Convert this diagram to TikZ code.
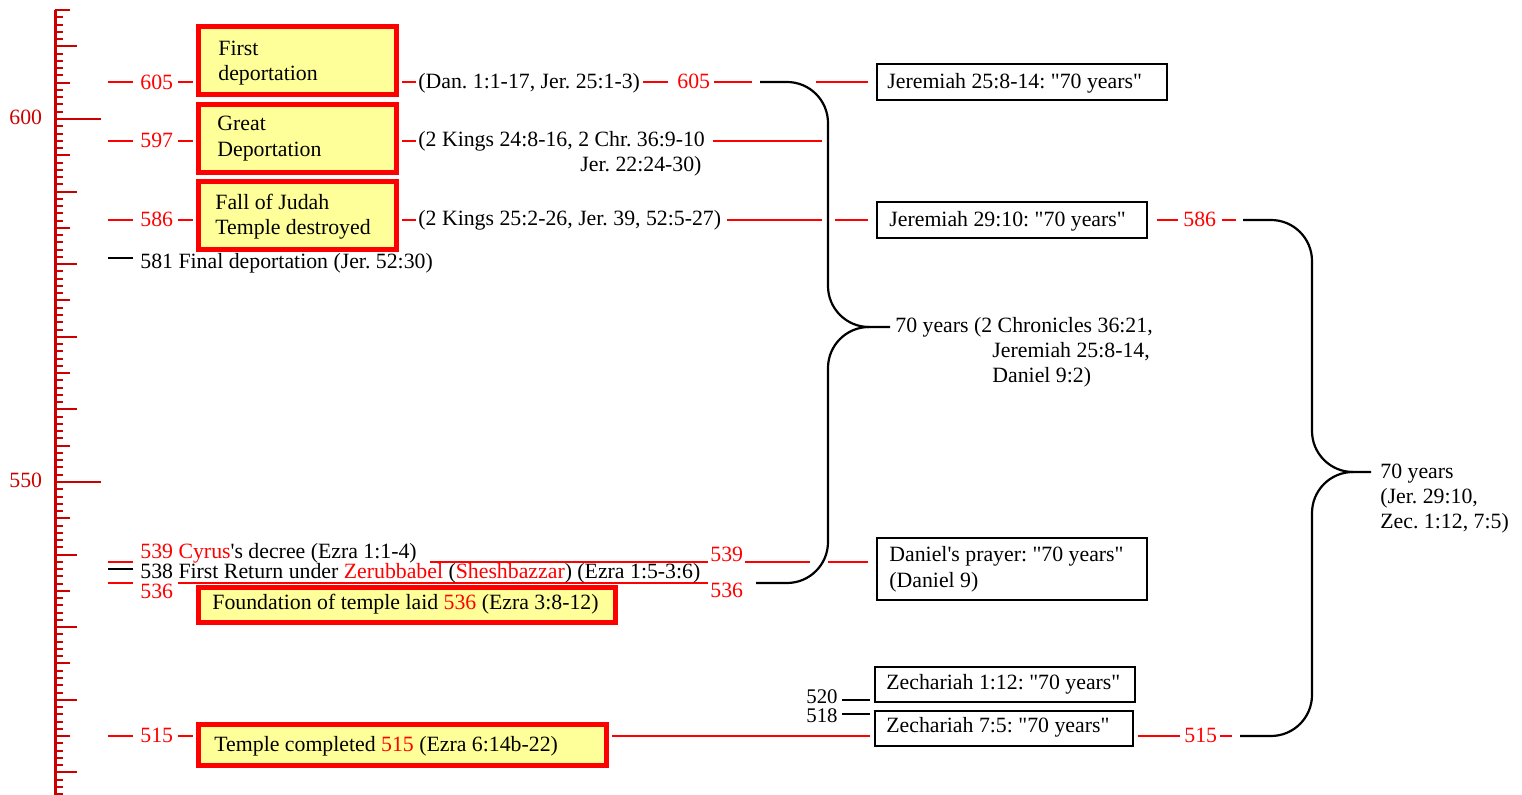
\documentclass[tikz,border=0pt]{standalone}
\usepackage{fontspec}
\setmainfont{Liberation Serif}[Ligatures=TeXOff]
\usepackage{xcolor}
\definecolor{myred}{RGB}{255,0,0}
\definecolor{rulered}{RGB}{204,0,0}
\definecolor{boxyellow}{RGB}{255,255,153}
\newcommand\rd[1]{\textcolor{myred}{#1}}
\frenchspacing
\begin{document}
\frenchspacing
\begin{tikzpicture}[x=0.5pt,y=-0.5pt,
  txt/.style={anchor=base west, inner sep=0pt, font=\fontsize{10.9}{12.6}\selectfont},
  rtxt/.style={txt, text=myred},
  digits/.style={anchor=base west, inner sep=0pt, font=\fontsize{10.4}{12}\selectfont, text height=6.8pt, text depth=0pt},
  redbox/.style={draw=myred, line width=2.5pt, fill=boxyellow, inner sep=0pt},
  blkbox/.style={draw=black, line width=1pt, inner sep=0pt},
  rl/.style={draw=myred, line width=1pt},
  bl/.style={draw=black, line width=1pt},
  brace/.style={draw=black, line width=1.1pt, rounded corners=20.5pt},
  tickline/.style={draw=rulered, line width=1pt}]
\useasboundingbox (0,0) rectangle (1522,795);

% ---------- ruler ----------
\draw[rulered, line width=1.5pt] (55,10) -- (55,795);
\foreach \yr in {507,...,615}{
  \pgfmathsetmacro\yy{119+(600-\yr)*7.26}
  \pgfmathsetmacro\ll{ifthenelse(mod(\yr,50)==0,46,ifthenelse(mod(\yr,10)==0,22,ifthenelse(mod(\yr,5)==0,15,8)))}
  \draw[tickline] (55,\yy) -- ++(\ll,0);
}
\node[txt, text=rulered] (l600) at (9,125) {600};
\node[txt, text=rulered] (l550) at (9,488) {550};

% ---------- red timeline dashes (drawn first, boxes on top) ----------
% 605
\draw[rl] (108,82) -- (133,82);
\draw[rl] (178,82) -- (193,82);
\draw[rl] (402,82) -- (416,82);
\draw[rl] (643,82) -- (668,82);
\draw[rl] (714,82) -- (752,82);
\draw[rl] (816,82) -- (868,82);
% 597
\draw[rl] (108,141) -- (133,141);
\draw[rl] (178,141) -- (193,141);
\draw[rl] (402,141) -- (416,141);
\draw[rl] (713,141) -- (822,141);
% 586
\draw[rl] (108,220) -- (133,220);
\draw[rl] (178,220) -- (193,220);
\draw[rl] (402,220) -- (416,220);
\draw[rl] (727,220) -- (822,220);
\draw[rl] (835,220) -- (868,220);
\draw[rl] (1157,220) -- (1178,220);
\draw[rl] (1222,220) -- (1236,220);
% 581
\draw[bl] (108,258) -- (133,258);
% 539
\draw[rl] (108,562) -- (133,562);
\draw[rl] (430,562) -- (708,562);
\draw[rl] (745,562) -- (810,562);
\draw[rl] (828,562) -- (868,562);
% 538
\draw[bl] (108,569) -- (133,569);
% 536
\draw[rl] (108,583) -- (133,583);
\draw[rl] (178,583) -- (708,583);
% 515
\draw[rl] (108,736) -- (133,736);
\draw[rl] (178,736) -- (193,736);
\draw[rl] (612,736) -- (870,736);
\draw[rl] (1138,736) -- (1180,736);
\draw[rl] (1220,736) -- (1232,736);
% 520 / 518
\draw[bl] (842,700) -- (870,700);
\draw[bl] (842,714) -- (870,714);

% ---------- braces ----------
\draw[brace] (760,82) -- (828,82) -- (828,327) -- (890,327);
\draw[brace] (869,327) -- (828,327) -- (828,583) -- (756,583);
\draw[brace] (1243,220) -- (1312,220) -- (1312,472) -- (1371,472);
\draw[brace] (1353,472) -- (1312,472) -- (1312,736) -- (1240,736);

% ---------- boxes ----------
\node[redbox, minimum width=99pt, minimum height=34pt] (b1) at (297.5,60.5) {};
\node[redbox, minimum width=99pt, minimum height=34pt] (b2) at (297.5,138.5) {};
\node[redbox, minimum width=99pt, minimum height=34pt] (b3) at (297.5,215.5) {};
\node[redbox, minimum width=208.5pt, minimum height=17.5pt] (b4) at (407,605) {};
\node[redbox, minimum width=204pt, minimum height=20.5pt] (b5) at (402.5,745) {};
\node[blkbox, minimum width=145pt, minimum height=18pt] (j25) at (1022,82) {};
\node[blkbox, minimum width=135pt, minimum height=18pt] (j29) at (1012,220) {};
\node[blkbox, minimum width=135pt, minimum height=31pt] (dan) at (1012,569) {};
\node[blkbox, minimum width=130pt, minimum height=17.5pt] (z1) at (1005,684.5) {};
\node[blkbox, minimum width=129pt, minimum height=17.5pt] (z7) at (1004,728.5) {};

% ---------- texts ----------
\node[rtxt] (t605a) at (140,90) {605};
\node[txt] (b1a) at (218,56) {First};
\node[txt] (b1b) at (218,81) {deportation};
\node[txt] (r605) at (418,89) {(Dan. 1:1-17, Jer. 25:1-3)};
\node[rtxt] (t605b) at (677,89) {605};
\node[txt] (j25t) at (887,89) {Jeremiah 25:8-14: "70 years"};

\node[rtxt] (t597) at (140,148) {597};
\node[txt] (b2a) at (217,131) {Great};
\node[txt] (b2b) at (217,157) {Deportation};
\node[txt] (r597a) at (418,147) {(2 Kings 24:8-16, 2 Chr. 36:9-10};
\node[txt] (r597b) at (580,172) {Jer. 22:24-30)};

\node[rtxt] (t586a) at (140,227) {586};
\node[txt] (b3a) at (215,210) {Fall of Judah};
\node[txt] (b3b) at (215,235) {Temple destroyed};
\node[txt] (r586) at (418,226) {(2 Kings 25:2-26, Jer. 39, 52:5-27)};
\node[txt] (j29t) at (889,227) {Jeremiah 29:10: "70 years"};
\node[rtxt] (t586b) at (1183,227) {586};

\node[txt] (t581) at (140,269) {581 Final deportation (Jer. 52:30)};

\node[txt] (s1) at (895,333) {70 years (2 Chronicles 36:21,};
\node[txt] (s2) at (992,358) {Jeremiah 25:8-14,};
\node[txt] (s3) at (992,383) {Daniel 9:2)};

\node[txt] (u1) at (1380,479) {70 years};
\node[txt] (u2) at (1380,504) {(Jer. 29:10,};
\node[txt] (u3) at (1380,529) {Zec. 1:12, 7:5)};

\node[txt] (t539) at (140,559) {\rd{539 Cyrus}'s decree (Ezra 1:1-4)};
\node[txt] (t538) at (140,579) {538 First Return under \rd{Zerubbabel} (\rd{Sheshbazzar}) (Ezra 1:5-3:6)};
\node[rtxt] (t536a) at (140,599) {536};
\node[rtxt] (t539b) at (710,562) {539};
\node[rtxt] (t536b) at (710,598) {536};
\node[txt] (b4t) at (212,610) {Foundation of temple laid \rd{536} (Ezra 3:8-12)};
\node[txt] (dan1) at (889,562) {Daniel's prayer: "70 years"};
\node[txt] (dan2) at (889,588) {(Daniel 9)};

\node[digits] (t520) at (806,704) {520};
\node[digits] (t518) at (806,723) {518};
\node[txt] (z1t) at (886,690) {Zechariah 1:12: "70 years"};
\node[txt] (z7t) at (886,733) {Zechariah 7:5: "70 years"};

\node[rtxt] (t515a) at (140,743) {515};
\node[txt] (b5t) at (214,752) {Temple completed \rd{515} (Ezra 6:14b-22)};
\node[rtxt] (t515b) at (1184,743) {515};
\end{tikzpicture}
\end{document}
